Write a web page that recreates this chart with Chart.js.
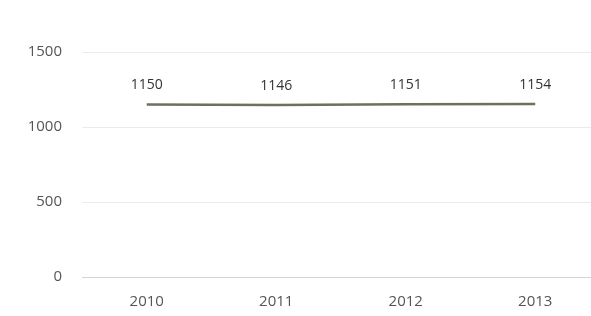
<!DOCTYPE html>
<html>
<head>
<meta charset="utf-8">
<script src="https://cdn.jsdelivr.net/npm/chart.js@4/dist/chart.umd.min.js"></script>
<style>
  html, body { margin: 0; padding: 0; background: #fff; overflow: hidden; }
  #wrap { width: 610px; height: 316px; }
</style>
</head>
<body>
<div id="wrap"><canvas id="chart" width="610" height="316"></canvas></div>
<script>
const years = ["2010", "2011", "2012", "2013"];
const values = [1150, 1146, 1151, 1154];
const yTicks = [0, 500, 1000, 1500];

// draw the value above each point
const valueLabels = {
  id: "valueLabels",
  afterDatasetsDraw(chart) {
    const ctx = chart.ctx;
    const meta = chart.getDatasetMeta(0);
    ctx.save();
    ctx.font = "14px 'Open Sans'";
    ctx.fillStyle = "#333";
    ctx.textAlign = "center";
    ctx.textBaseline = "middle";
    meta.data.forEach((pt, i) => {
      ctx.fillText(values[i], pt.x, pt.y - 19);
    });
    ctx.restore();
  }
};

new Chart(document.getElementById("chart"), {
  type: "line",
  data: {
    labels: years,
    datasets: [
      {
        data: values,
        borderColor: "#6e705c",
        borderWidth: 2.5,
        pointRadius: 0,
        tension: 0,
        fill: false,
      },
    ],
  },
  options: {
    responsive: false,
    animation: false,
    layout: { padding: { top: 52, right: 10, left: 0, bottom: 0 } },
    plugins: {
      legend: { display: false },
      title: { display: false },
      tooltip: { enabled: false },
    },
    scales: {
      x: {
        offset: true,
        afterFit(scale) { scale.height = 39; },
        grid: { display: false, drawTicks: false },
        border: { display: false },
        ticks: { color: "#555", font: { family: "Open Sans", size: 15 }, padding: 16 },
      },
      y: {
        min: 0,
        max: 1500,
        afterFit(scale) { scale.width = 82; },
        afterBuildTicks(scale) { scale.ticks = yTicks.map((v) => ({ value: v })); },
        grid: {
          color: (c) => (c.tick && c.tick.value === 0 ? "#d4d4d4" : "#ebebeb"),
          drawTicks: false,
        },
        border: { display: false },
        ticks: {
          color: "#555",
          font: { family: "Open Sans", size: 15 },
          padding: 20,
          callback: (v) => String(v),
        },
      },
    },
  },
  plugins: [valueLabels],
});
</script>
</body>
</html>
